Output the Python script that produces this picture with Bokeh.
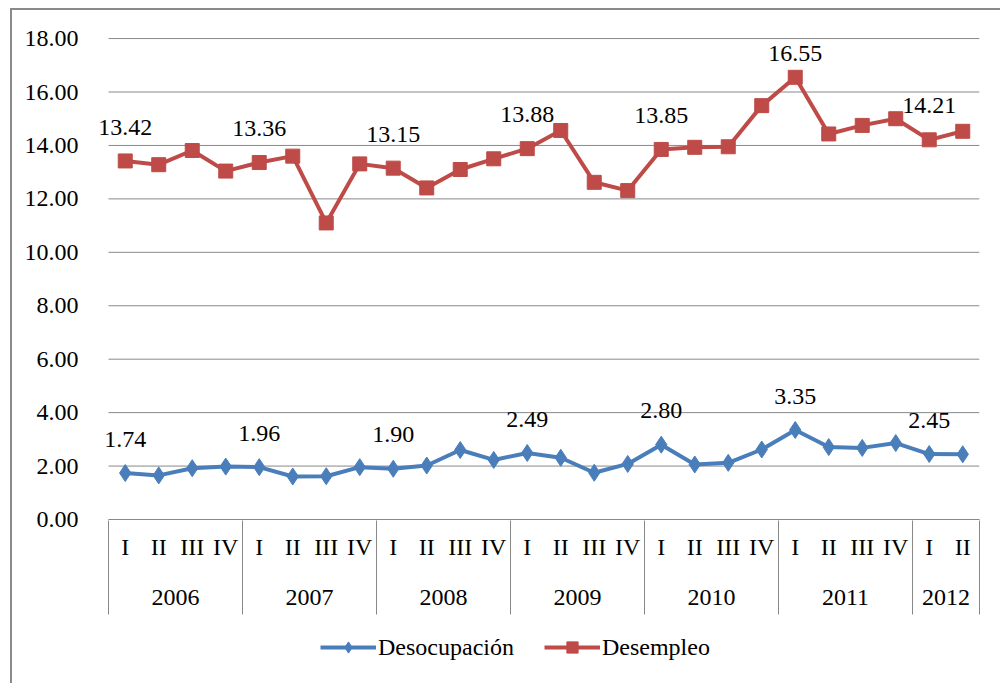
import numpy as np
from bokeh.plotting import figure
from bokeh.layouts import column
from bokeh.models import (Range1d, LinearAxis, FixedTicker, ColumnDataSource,
                          Legend, LegendItem, NumeralTickFormatter)
from bokeh.core.properties import value
from bokeh.embed import file_html
from bokeh.resources import INLINE

# ---------------- data ----------------
years = ["2006", "2007", "2008", "2009", "2010", "2011", "2012"]
quarters_per_year = [4, 4, 4, 4, 4, 4, 2]
quarter_names = ["I", "II", "III", "IV"]

desocupacion = [1.74, 1.65, 1.92, 1.98,
                1.96, 1.61, 1.62, 1.96,
                1.90, 2.02, 2.60, 2.23,
                2.49, 2.31, 1.75, 2.08,
                2.80, 2.06, 2.12, 2.62,
                3.35, 2.71, 2.68, 2.86,
                2.45, 2.44]
desempleo = [13.42, 13.28, 13.81, 13.04,
             13.36, 13.60, 11.10, 13.31,
             13.15, 12.41, 13.10, 13.50,
             13.88, 14.56, 12.62, 12.31,
             13.85, 13.93, 13.95, 15.49,
             16.55, 14.43, 14.75, 15.00,
             14.21, 14.53]
series_names = ["Desocupación", "Desempleo"]
y_ticks = [0, 2, 4, 6, 8, 10, 12, 14, 16, 18]

# ---------------- style ----------------
FONT = "Liberation Serif"
BLUE = "#4A7EBB"
RED = "#BE4B48"
GRID = "#888888"
FS = "24px"
LEFT_PAD = 0.537   # empty room left of the first category (room for labels)

# category positions (one slot per quarter)
q_labels = [quarter_names[q] for n in quarters_per_year for q in range(n)]
n_pts = len(q_labels)
xpos = [i + 0.5 for i in range(n_pts)]
bounds = [int(v) for v in np.cumsum([0] + quarters_per_year)]
year_centers = [(a + b) / 2 for a, b in zip(bounds[:-1], bounds[1:])]

p = figure(width=988, height=611,
           x_range=Range1d(-LEFT_PAD, n_pts),
           y_range=Range1d(y_ticks[0], y_ticks[-1] + 0.04),
           output_backend="svg", toolbar_location=None,
           min_border_left=78, min_border_right=21, min_border_top=27, min_border_bottom=102)
p.outline_line_color = None
p.background_fill_color = "white"
p.border_fill_color = "white"
p.xgrid.grid_line_color = None
p.ygrid.grid_line_color = None

# horizontal gridlines over the category span
p.segment(x0=[0] * len(y_ticks), x1=[n_pts] * len(y_ticks), y0=y_ticks, y1=y_ticks,
          line_color=GRID, line_width=1)

src = ColumnDataSource(dict(x=xpos, deso=desocupacion, dese=desempleo))
p.line("x", "deso", source=src, line_color=BLUE, line_width=4, line_join="round")
p.scatter("x", "deso", source=src, marker="diamond", size=17, fill_color=BLUE, line_color=BLUE)
p.line("x", "dese", source=src, line_color=RED, line_width=4, line_join="round")
p.scatter("x", "dese", source=src, marker="square", size=14, fill_color=RED, line_color=RED)

# data labels on the first quarter of each year
starts = bounds[:-1]
LABEL_GAP = 1.27   # data units above the point
LABEL_CAP = 17.44  # keep labels inside the plot area
for series in (desocupacion, desempleo):
    vals = np.array([series[i] for i in starts])
    lab = ColumnDataSource(dict(x=[xpos[i] for i in starts],
                                y=np.minimum(vals + LABEL_GAP, LABEL_CAP),
                                t=[f"{v:.2f}" for v in vals]))
    p.text("x", "y", text="t", source=lab, text_font=value(FONT), text_font_size=FS,
           text_color="black", text_align="center", text_baseline="middle")

# y axis
p.yaxis.ticker = FixedTicker(ticks=y_ticks)
p.yaxis.formatter = NumeralTickFormatter(format="0.00")
p.yaxis.axis_line_color = None
p.yaxis.major_tick_line_color = None
p.yaxis.minor_tick_line_color = None
p.yaxis.major_label_standoff = 6
p.yaxis.major_label_text_font = FONT
p.yaxis.major_label_text_font_size = FS
p.yaxis.major_label_text_color = "black"

# x axis level 1: quarters
xa = p.xaxis[0]
xa.ticker = FixedTicker(ticks=xpos)
xa.major_label_overrides = {x: q for x, q in zip(xpos, q_labels)}
xa.bounds = (0, n_pts)
xa.axis_line_color = GRID
xa.axis_line_width = 1
xa.major_tick_line_color = None
xa.minor_tick_line_color = None
xa.major_label_standoff = 8
xa.major_label_text_font = FONT
xa.major_label_text_font_size = FS
xa.major_label_text_color = "black"

# x axis level 2: years
ya = LinearAxis(ticker=FixedTicker(ticks=year_centers),
                major_label_overrides={x: y for x, y in zip(year_centers, years)},
                axis_line_color=None, major_tick_line_color=None, minor_tick_line_color=None,
                major_label_standoff=21, major_label_text_font=FONT,
                major_label_text_font_size=FS, major_label_text_color="black")
p.add_layout(ya, "below")

# box lines separating the years
box = LinearAxis(ticker=FixedTicker(ticks=bounds),
                 axis_line_color=None, major_tick_in=87, major_tick_out=7,
                 major_tick_line_color=GRID, major_tick_line_width=1,
                 minor_tick_line_color=None, major_label_text_color=None,
                 major_label_text_font_size="1px", major_label_standoff=0)
p.add_layout(box, "below")

# ---------------- legend strip ----------------
# same series and styles; the strip's y range (0..1) keeps the data itself out of view
lg = figure(width=988, height=62, x_range=Range1d(0, 1), y_range=Range1d(0, 1),
            output_backend="svg", toolbar_location=None,
            x_axis_location=None, y_axis_location=None,
            min_border=0, min_border_left=0, min_border_right=0,
            min_border_top=0, min_border_bottom=0)
lg.outline_line_color = None
lg.xgrid.grid_line_color = None
lg.ygrid.grid_line_color = None
k1 = lg.line("x", "deso", source=src, line_color=BLUE, line_width=4)
k2 = lg.scatter("x", "deso", source=src, marker="diamond", size=17, fill_color=BLUE, line_color=BLUE)
k3 = lg.line("x", "dese", source=src, line_color=RED, line_width=4)
k4 = lg.scatter("x", "dese", source=src, marker="square", size=14, fill_color=RED, line_color=RED)
legend = Legend(items=[LegendItem(label=series_names[0], renderers=[k1, k2]),
                       LegendItem(label=series_names[1], renderers=[k3, k4])],
                orientation="horizontal", location=(230, 22),
                label_text_font=FONT, label_text_font_size=FS, label_text_color="black",
                glyph_width=56, glyph_height=28, label_standoff=2, spacing=30,
                padding=0, margin=0, border_line_color=None, background_fill_alpha=0)
lg.add_layout(legend, "center")

layout = column(p, lg, spacing=0)
layout.styles = {"margin-left": "10px", "margin-top": "8px",
                 "border-left": "2px solid #8a8a8a", "border-top": "2px solid #8a8a8a"}

open("out.html", "w").write(file_html(layout, INLINE))
